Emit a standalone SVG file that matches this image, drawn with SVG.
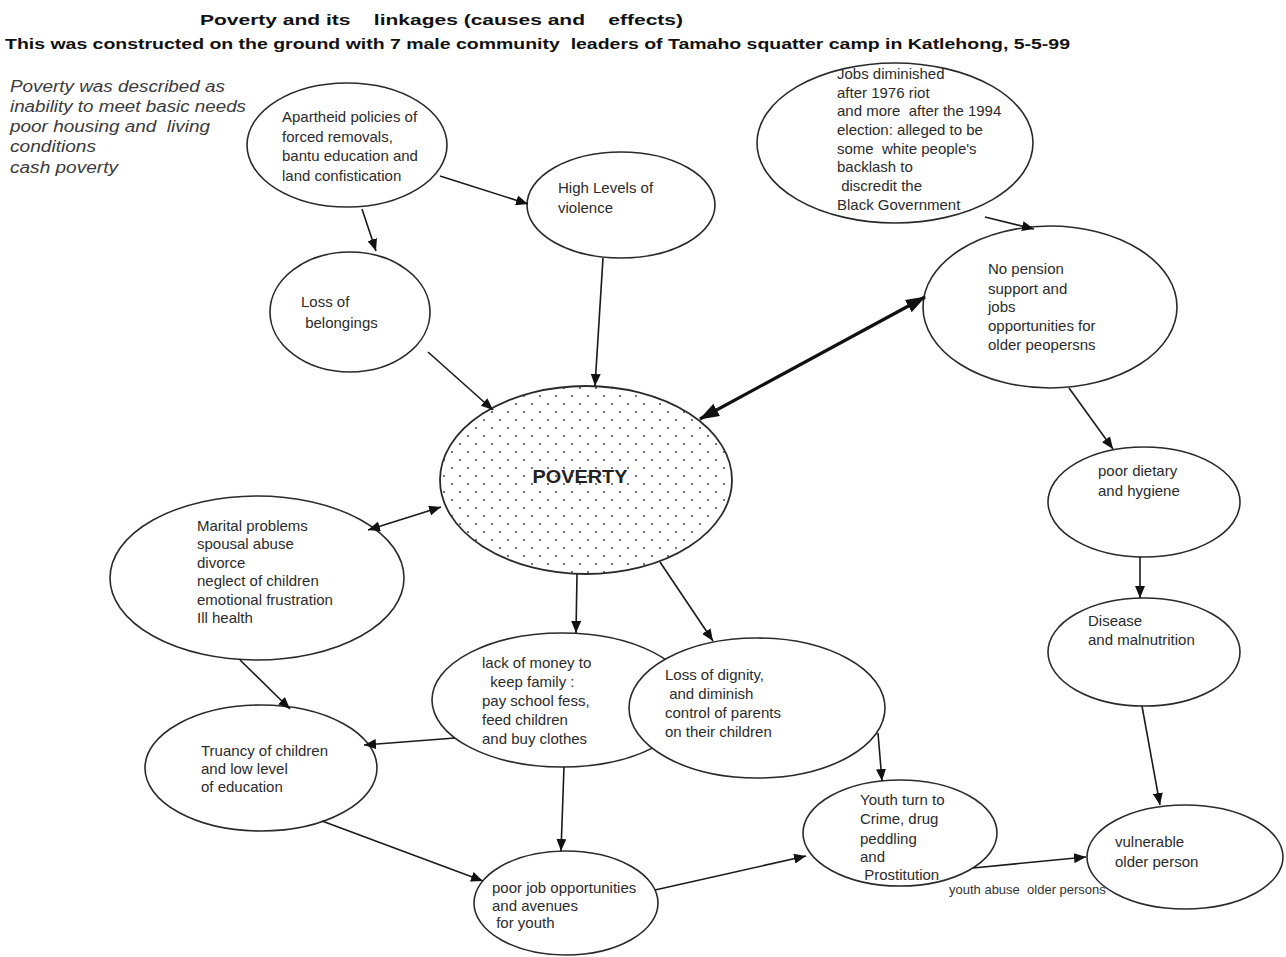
<svg xmlns="http://www.w3.org/2000/svg" width="1286" height="957" viewBox="0 0 1286 957">
<style>
.bg{fill:#ffffff}
.node{fill:#ffffff;stroke:#2a2a2a;stroke-width:1.6}
.t{font-family:"Liberation Sans",Arial,sans-serif;font-size:15px;fill:#2b2b2b;white-space:pre}
.it{font-family:"Liberation Sans",Arial,sans-serif;font-size:16px;font-style:italic;fill:#3a3a3a;white-space:pre}
.title{font-family:"Liberation Sans",Arial,sans-serif;font-size:15px;font-weight:bold;fill:#111;white-space:pre}
.big{font-family:"Liberation Sans",Arial,sans-serif;font-size:18px;font-weight:bold;fill:#222}
.lab{font-family:"Liberation Sans",Arial,sans-serif;font-size:13px;fill:#333;white-space:pre}
.c{fill:none;stroke:#1a1a1a;stroke-width:1.6;marker-end:url(#ah)}
.cd{fill:none;stroke:#1a1a1a;stroke-width:1.6;marker-end:url(#ah);marker-start:url(#ah)}
.ct{fill:none;stroke:#111;stroke-width:3.2;marker-end:url(#ahb);marker-start:url(#ahb)}
</style>
<defs>
<marker id="ah" viewBox="0 0 12 10" refX="12" refY="5" markerWidth="12" markerHeight="10" markerUnits="userSpaceOnUse" orient="auto-start-reverse">
<path d="M0,0 L12,5 L0,10 z" fill="#111"/>
</marker>
<marker id="ahb" viewBox="0 0 20 14" refX="19" refY="7" markerWidth="20" markerHeight="14" markerUnits="userSpaceOnUse" orient="auto-start-reverse">
<path d="M0,0 L20,7 L0,14 z" fill="#111"/>
</marker>
<pattern id="dots" width="16" height="16" patternUnits="userSpaceOnUse">
<rect width="16" height="16" fill="#ffffff"/>
<circle cx="4" cy="4" r="1.1" fill="#555"/>
<circle cx="12" cy="12" r="1.1" fill="#555"/>
</pattern>
</defs>
<rect class="bg" x="0" y="0" width="1286" height="957"/>

<g id="titles">
<text class="title" x="200" y="25" textLength="483" lengthAdjust="spacingAndGlyphs">Poverty and its    linkages (causes and    effects)</text>
<text class="title" x="5" y="49" textLength="1065" lengthAdjust="spacingAndGlyphs">This was constructed on the ground with 7 male community  leaders of Tamaho squatter camp in Katlehong, 5-5-99</text>
</g>

<g id="definition">
<text class="it" x="10" y="92" textLength="215" lengthAdjust="spacingAndGlyphs">Poverty was described as</text>
<text class="it" x="10" y="112" textLength="236" lengthAdjust="spacingAndGlyphs">inability to meet basic needs</text>
<text class="it" x="10" y="132" textLength="200" lengthAdjust="spacingAndGlyphs">poor housing and  living</text>
<text class="it" x="10" y="152" textLength="86" lengthAdjust="spacingAndGlyphs">conditions</text>
<text class="it" x="10" y="173" textLength="108" lengthAdjust="spacingAndGlyphs">cash poverty</text>
</g>

<g id="n-apartheid">
<ellipse class="node" cx="347" cy="145" rx="100" ry="62"/>
<text class="t" x="282" y="122">Apartheid policies of</text>
<text class="t" x="282" y="142">forced removals,</text>
<text class="t" x="282" y="161">bantu education and</text>
<text class="t" x="282" y="181">land confistication</text>
</g>

<g id="n-violence">
<ellipse class="node" cx="621" cy="205" rx="94" ry="53"/>
<text class="t" x="558" y="193">High Levels of</text>
<text class="t" x="558" y="213">violence</text>
</g>

<g id="n-jobs">
<ellipse class="node" cx="895" cy="143" rx="138" ry="80"/>
<text class="t" x="837" y="79">Jobs diminished</text>
<text class="t" x="837" y="98">after 1976 riot</text>
<text class="t" x="837" y="116">and more  after the 1994</text>
<text class="t" x="837" y="135">election: alleged to be</text>
<text class="t" x="837" y="154">some  white people's</text>
<text class="t" x="837" y="172">backlash to</text>
<text class="t" x="837" y="191"> discredit the</text>
<text class="t" x="837" y="210">Black Government</text>
</g>

<g id="n-pension">
<ellipse class="node" cx="1050" cy="307" rx="127" ry="81"/>
<text class="t" x="988" y="274">No pension</text>
<text class="t" x="988" y="294">support and</text>
<text class="t" x="988" y="312">jobs</text>
<text class="t" x="988" y="331">opportunities for</text>
<text class="t" x="988" y="350">older peopersns</text>
</g>

<g id="n-belongings">
<ellipse class="node" cx="350" cy="312" rx="80" ry="60"/>
<text class="t" x="301" y="307">Loss of</text>
<text class="t" x="301" y="328"> belongings</text>
</g>

<g id="n-poverty">
<ellipse cx="586" cy="480" rx="146" ry="94" fill="url(#dots)" stroke="#2a2a2a" stroke-width="1.8"/>
<text class="big" x="580" y="483" text-anchor="middle" textLength="95" lengthAdjust="spacingAndGlyphs">POVERTY</text>
</g>

<g id="n-marital">
<ellipse class="node" cx="257" cy="578" rx="147" ry="82"/>
<text class="t" x="197" y="531">Marital problems</text>
<text class="t" x="197" y="549">spousal abuse</text>
<text class="t" x="197" y="568">divorce</text>
<text class="t" x="197" y="586">neglect of children</text>
<text class="t" x="197" y="605">emotional frustration</text>
<text class="t" x="197" y="623">Ill health</text>
</g>

<g id="n-money">
<ellipse class="node" cx="562" cy="700" rx="130" ry="67"/>
<text class="t" x="482" y="668">lack of money to</text>
<text class="t" x="482" y="687">  keep family :</text>
<text class="t" x="482" y="706">pay school fess,</text>
<text class="t" x="482" y="725">feed children</text>
<text class="t" x="482" y="744">and buy clothes</text>
</g>

<g id="n-dignity">
<ellipse class="node" cx="757" cy="708" rx="128" ry="70"/>
<text class="t" x="665" y="680">Loss of dignity,</text>
<text class="t" x="665" y="699"> and diminish</text>
<text class="t" x="665" y="718">control of parents</text>
<text class="t" x="665" y="737">on their children</text>
</g>

<g id="n-truancy">
<ellipse class="node" cx="261" cy="768" rx="116" ry="63"/>
<text class="t" x="201" y="756">Truancy of children</text>
<text class="t" x="201" y="774">and low level</text>
<text class="t" x="201" y="792">of education</text>
</g>

<g id="n-jobopp">
<ellipse class="node" cx="566" cy="903" rx="92" ry="52"/>
<text class="t" x="492" y="893">poor job opportunities</text>
<text class="t" x="492" y="911">and avenues</text>
<text class="t" x="492" y="928"> for youth</text>
</g>

<g id="n-youth">
<ellipse class="node" cx="900" cy="833" rx="97" ry="53"/>
<text class="t" x="860" y="805">Youth turn to</text>
<text class="t" x="860" y="824">Crime, drug</text>
<text class="t" x="860" y="844">peddling</text>
<text class="t" x="860" y="862">and</text>
<text class="t" x="860" y="880"> Prostitution</text>
</g>

<g id="n-vulnerable">
<ellipse class="node" cx="1185" cy="857" rx="98" ry="52"/>
<text class="t" x="1115" y="847">vulnerable</text>
<text class="t" x="1115" y="867">older person</text>
</g>

<g id="n-dietary">
<ellipse class="node" cx="1144" cy="502" rx="96" ry="55"/>
<text class="t" x="1098" y="476">poor dietary</text>
<text class="t" x="1098" y="496">and hygiene</text>
</g>

<g id="n-disease">
<ellipse class="node" cx="1144" cy="652" rx="96" ry="54"/>
<text class="t" x="1088" y="626">Disease</text>
<text class="t" x="1088" y="645">and malnutrition</text>
</g>

<g id="connectors">
<path class="c" d="M362,209 L376,251"/>
<path class="c" d="M440,176 L528,204"/>
<path class="c" d="M428,352 L493,410"/>
<path class="c" d="M603,258 L595,386"/>
<path class="c" d="M985,217 L1034,229"/>
<path class="ct" d="M700,419 L925,297"/>
<path class="c" d="M1069,388 L1113,449"/>
<path class="c" d="M1140,557 L1140,598"/>
<path class="c" d="M1142,706 L1160,805"/>
<path class="cd" d="M368,530 L441,507"/>
<path class="c" d="M240,660 L290,709"/>
<path class="c" d="M577,574 L576,633"/>
<path class="c" d="M660,562 L713,641"/>
<path class="c" d="M455,738 L364,745"/>
<path class="c" d="M564,767 L561,851"/>
<path class="c" d="M322,821 L483,881"/>
<path class="c" d="M878,733 L882,781"/>
<path class="c" d="M655,890 L806,856"/>
<path class="c" d="M973,868 L1086,857"/>
</g>

<g id="edge-label">
<text class="lab" x="949" y="894">youth abuse  older persons</text>
</g>
</svg>
